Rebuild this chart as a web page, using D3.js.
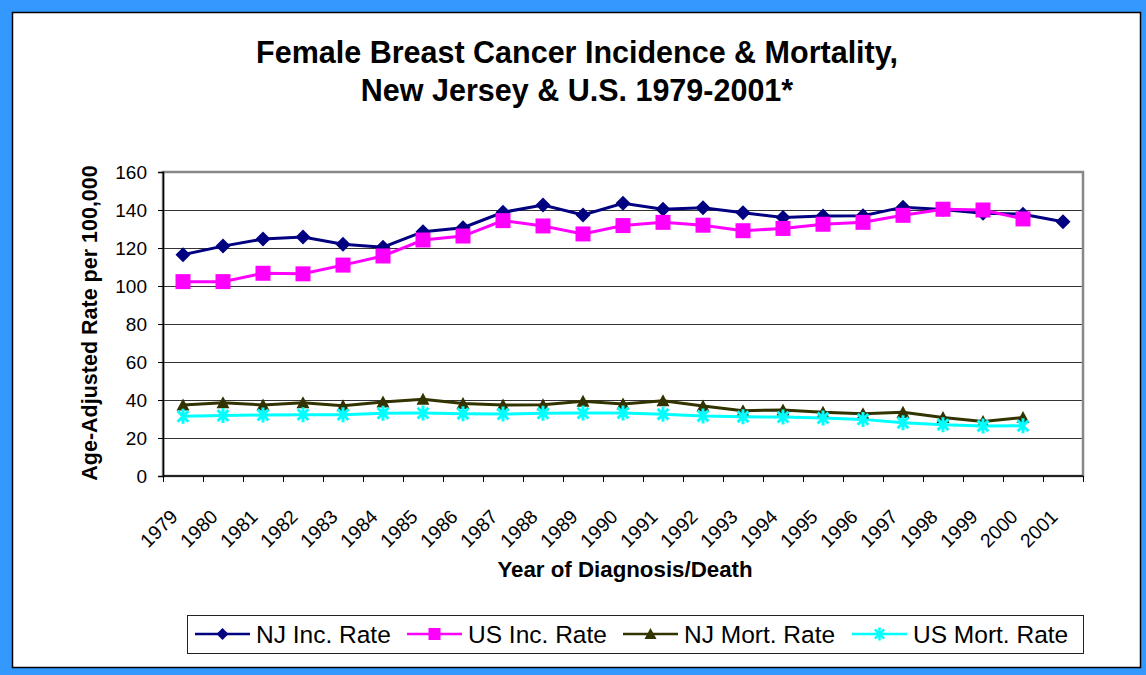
<!DOCTYPE html>
<html>

<head>
  <title>Female Breast Cancer</title>
  <script type='text/javascript' src='https://cdn.jsdelivr.net/npm/d3@7/dist/d3.min.js'></script>
  <style type="text/css">
    body {
      margin: 0;
    }

    text {
      font-family: Arial, "Liberation Sans", sans-serif;
    }
  </style>
</head>

<body>
</body>
<script type='text/javascript'>

  let [w, h] = [1146, 675]

  // data
  var years = ["1979", "1980", "1981", "1982", "1983", "1984", "1985", "1986", "1987", "1988", "1989", "1990",
    "1991", "1992", "1993", "1994", "1995", "1996", "1997", "1998", "1999", "2000", "2001"]
  var njInc = [116.5, 121.0, 124.7, 125.8, 122.0, 120.4, 128.6, 130.7, 138.8, 142.6, 137.4, 143.5,
    140.4, 141.2, 138.6, 136.1, 136.8, 137.0, 141.5, 140.3, 138.3, 137.8, 133.8]
  var usInc = [102.3, 102.3, 106.7, 106.4, 111.0, 115.8, 124.2, 126.3, 134.4, 131.6, 127.4, 131.8,
    133.5, 132.0, 129.1, 130.3, 132.5, 133.5, 137.2, 140.4, 140.0, 135.3, null]
  var njMort = [37.4, 38.6, 37.4, 38.6, 37.0, 39.0, 40.4, 38.2, 37.4, 37.5, 39.3, 37.9,
    39.6, 36.8, 34.4, 34.7, 33.5, 32.8, 33.5, 30.8, 28.7, 30.8, null]
  var usMort = [31.4, 31.8, 32.1, 32.3, 32.3, 33.0, 33.1, 32.8, 32.6, 33.0, 33.1, 33.2,
    32.5, 31.6, 31.2, 31.0, 30.5, 29.8, 28.0, 27.0, 26.3, 26.4, null]
  var yTicks = [0, 20, 40, 60, 80, 100, 120, 140, 160]
  var seriesNames = ["NJ Inc. Rate", "US Inc. Rate", "NJ Mort. Rate", "US Mort. Rate"]
  var seriesColors = ["#000080", "#FF00FF", "#333300", "#00FFFF"]
  var seriesMarkers = ["diamond", "square", "triangle", "star"]

  var series = [njInc, usInc, njMort, usMort].map(function (vals, i) {
    return { name: seriesNames[i], color: seriesColors[i], marker: seriesMarkers[i], values: vals }
  })

  // marker shapes, r = half size
  var shape = function (type, r) {
    if (type == "diamond") return "M0," + (-r) + "L" + r + ",0L0," + r + "L" + (-r) + ",0Z"
    if (type == "square") return "M" + (-r) + "," + (-r) + "h" + 2 * r + "v" + 2 * r + "h" + (-2 * r) + "Z"
    if (type == "triangle") return "M0," + (-r) + "L" + r + "," + r * 0.85 + "L" + (-r) + "," + r * 0.85 + "Z"
    // star: vertical + x
    var d = r * 0.72
    return "M0," + (-r) + "V" + r + "M" + (-d) + "," + (-d) + "L" + d + "," + d + "M" + (-d) + "," + d + "L" + d + "," + (-d)
  }

  var svg = d3.select("body")
    .append("svg")
    .attr("width", w)
    .attr("height", h);

  // frame
  svg.append("rect").attr("width", w).attr("height", h).attr("fill", "#3399FF")
  svg.append("rect")
    .attr("x", 12.5).attr("y", 12.5).attr("width", 1128).attr("height", 655)
    .attr("fill", "white").attr("stroke", "black").attr("stroke-width", 1.5)

  // title
  var title = svg.append("text")
    .attr("text-anchor", "middle")
    .attr("font-weight", "bold")
    .attr("font-size", 30.5)
  title.append("tspan").attr("x", 577).attr("y", 63).text("Female Breast Cancer Incidence & Mortality,")
  title.append("tspan").attr("x", 577).attr("y", 101).text("New Jersey & U.S. 1979-2001*")

  var x = d3.scaleBand().domain(years).range([163, 1083])
  var y = d3.scaleLinear().domain([0, 160]).range([476, 172])

  // gridlines
  svg.append("g").selectAll("line")
    .data(yTicks.slice(1, -1))
    .enter().append("line")
    .attr("x1", x.range()[0]).attr("x2", x.range()[1])
    .attr("y1", function (d) { return y(d) + 0.5 })
    .attr("y2", function (d) { return y(d) + 0.5 })
    .attr("stroke", "#333").attr("stroke-width", 1)

  // plot area border
  svg.append("rect")
    .attr("x", x.range()[0]).attr("y", y(160))
    .attr("width", x.range()[1] - x.range()[0]).attr("height", y(0) - y(160))
    .attr("fill", "none").attr("stroke", "#888").attr("stroke-width", 2.5)

  // y axis
  var yAxis = svg.append("g")
    .attr("transform", "translate(" + x.range()[0] + ",0)")
    .call(d3.axisLeft(y).tickValues(yTicks).tickSize(5).tickPadding(11))
  yAxis.select(".domain").attr("stroke", "black").attr("stroke-width", 1.5)
  yAxis.selectAll(".tick line").attr("stroke", "black")
  yAxis.selectAll("text").attr("font-size", 19).attr("fill", "black")
    .attr("font-family", "Arial, 'Liberation Sans', sans-serif")

  // x axis line and ticks between categories
  var xAxis = svg.append("g")
  xAxis.append("line")
    .attr("x1", x.range()[0]).attr("x2", x.range()[1])
    .attr("y1", y(0)).attr("y2", y(0))
    .attr("stroke", "black").attr("stroke-width", 1.5)
  xAxis.selectAll(".tk")
    .data(years.map(function (d) { return x(d) }).concat([x.range()[1]]))
    .enter().append("line")
    .attr("x1", function (d) { return d + 0.5 }).attr("x2", function (d) { return d + 0.5 })
    .attr("y1", y(0)).attr("y2", y(0) + 6)
    .attr("stroke", "black")
  xAxis.selectAll(".lbl")
    .data(years)
    .enter().append("text")
    .attr("text-anchor", "end")
    .attr("font-size", 19.5)
    .attr("transform", function (d) {
      return "translate(" + (x(d) + x.bandwidth() / 2 - 4) + "," + 518 + ") rotate(-45)"
    })
    .text(function (d) { return d })

  // axis titles
  svg.append("text")
    .attr("x", 625).attr("y", 577)
    .attr("text-anchor", "middle").attr("font-weight", "bold").attr("font-size", 22.3)
    .text("Year of Diagnosis/Death")
  svg.append("text")
    .attr("transform", "translate(97,323) rotate(-90)")
    .attr("text-anchor", "middle").attr("font-weight", "bold").attr("font-size", 21.5)
    .text("Age-Adjusted Rate per 100,000")

  // lines + markers
  var cx = function (i) { return x(years[i]) + x.bandwidth() / 2 }
  var line = d3.line()
    .defined(function (d) { return d != null })
    .x(function (d, i) { return cx(i) })
    .y(function (d) { return y(d) })

  var sg = svg.append("g").selectAll("g")
    .data(series)
    .enter().append("g")
  sg.append("path")
    .attr("d", function (s) { return line(s.values) })
    .attr("fill", "none")
    .attr("stroke", function (s) { return s.color })
    .attr("stroke-width", 3)
  sg.each(function (s) {
    var r = { diamond: 7.5, square: 7.5, triangle: 6.5, star: 7.5 }[s.marker]
    d3.select(this).selectAll(".m")
      .data(s.values.map(function (v, i) { return { v: v, i: i } }).filter(function (d) { return d.v != null }))
      .enter().append("path")
      .attr("transform", function (d) { return "translate(" + cx(d.i) + "," + y(d.v) + ")" })
      .attr("d", shape(s.marker, r))
      .attr("fill", s.marker == "star" ? "none" : s.color)
      .attr("stroke", s.color)
      .attr("stroke-width", s.marker == "star" ? 3 : 0)
  })

  // legend
  var legend = svg.append("g")
  legend.append("rect")
    .attr("x", 187.5).attr("y", 615.5).attr("width", 896).attr("height", 38)
    .attr("fill", "white").attr("stroke", "#222").attr("stroke-width", 1)
  var legX = [195, 407, 623, 852]
  var li = legend.selectAll(".li")
    .data(series)
    .enter().append("g")
    .attr("transform", function (s, i) { return "translate(" + legX[i] + ",634)" })
  li.append("line")
    .attr("x1", 0).attr("x2", 55)
    .attr("stroke", function (s) { return s.color }).attr("stroke-width", 2.5)
  li.append("path")
    .attr("transform", "translate(27.5,0)")
    .attr("d", function (s) { return shape(s.marker, s.marker == "star" ? 6.5 : 6) })
    .attr("fill", function (s) { return s.marker == "star" ? "none" : s.color })
    .attr("stroke", function (s) { return s.color })
    .attr("stroke-width", function (s) { return s.marker == "star" ? 2.5 : 0 })
  li.append("text")
    .attr("x", 61).attr("y", 9)
    .attr("font-size", 24.5)
    .text(function (s) { return s.name })
</script>

</html>
